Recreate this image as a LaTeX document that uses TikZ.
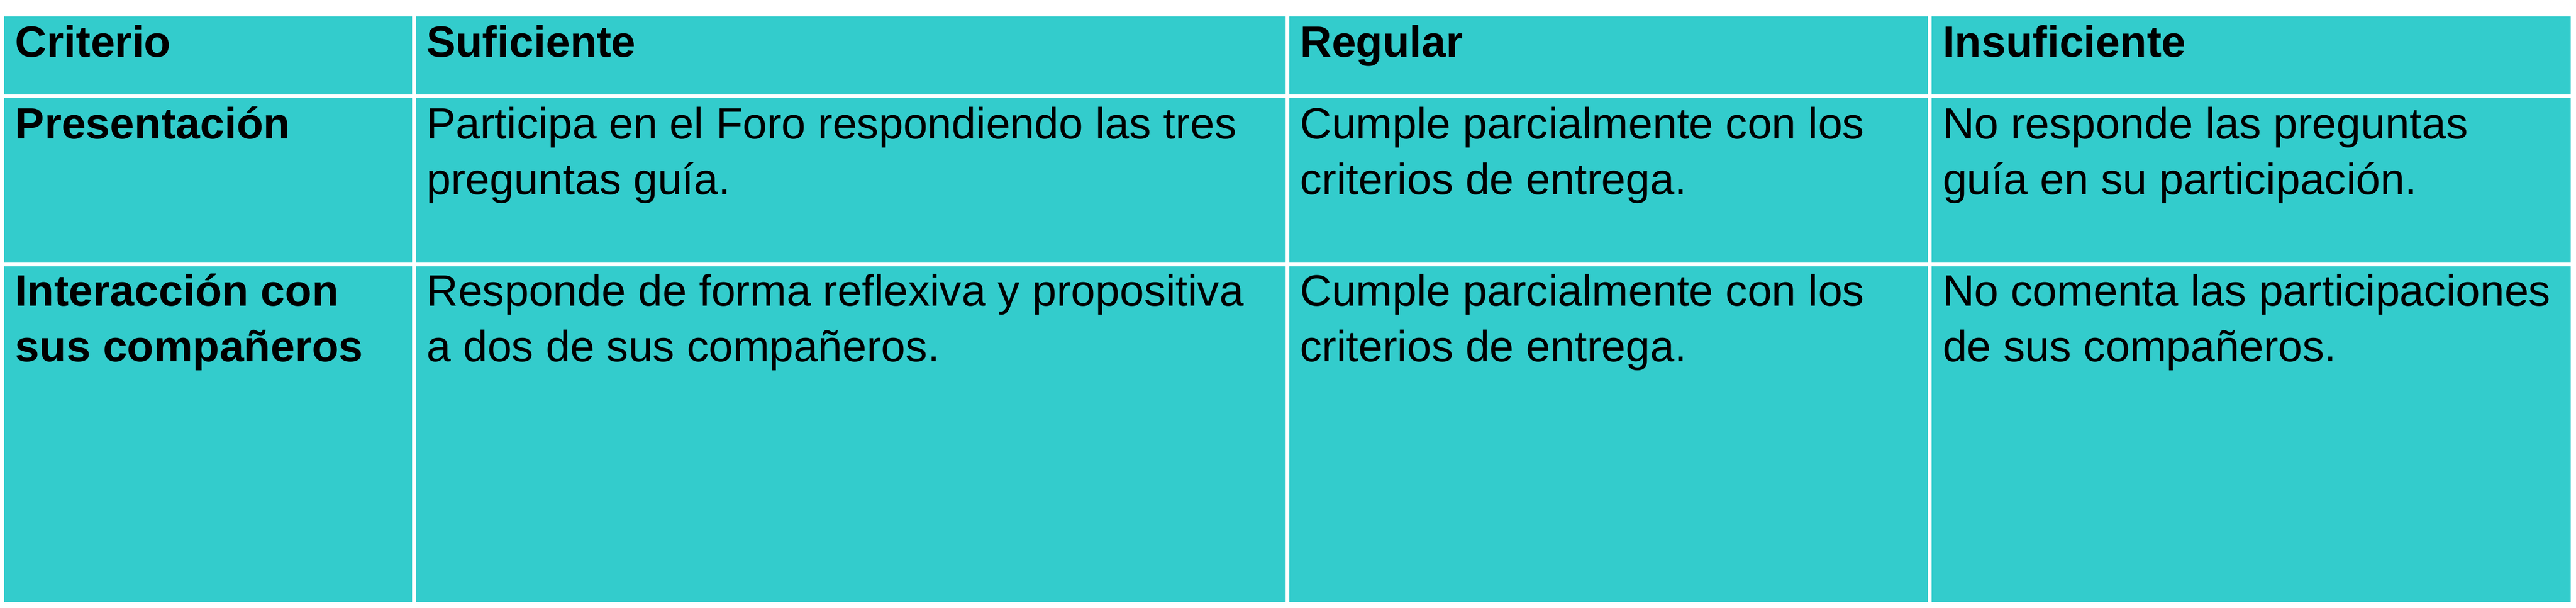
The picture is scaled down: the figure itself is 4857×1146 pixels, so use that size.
\documentclass[tikz,border=0pt]{standalone}
\usepackage{fontspec}
\setmainfont{Liberation Sans}
\definecolor{rubrica}{RGB}{51,204,204}
\newcommand\celllines[1]{\begin{tabular}[t]{@{}l@{}}#1\end{tabular}}

\begin{document}
\begin{tikzpicture}[x=0.2pt,y=-0.2pt,
    cell/.style={rectangle,anchor=north west,inner sep=0pt,outer sep=0pt,
      fill=rubrica,draw=white,line width=1.4pt},
    txt/.style={anchor=base west,inner sep=0pt,
      font=\fontsize{16.5}{21}\selectfont},
    head/.style={txt,font=\fontsize{16.5}{21}\selectfont\bfseries}]

        \useasboundingbox (0,0) rectangle (4857,1146);

        % cells, row by row
        \begin{scope}
          \node[cell,minimum width=155.1pt,minimum height=30.94pt] (11) at (4.5,27)   {};
          \node[cell,minimum width=329.4pt,minimum height=30.94pt] (12) at (780,27)   {};
          \node[cell,minimum width=242.3pt,minimum height=30.94pt] (13) at (2427,27)  {};
          \node[cell,minimum width=242.4pt,minimum height=30.94pt] (14) at (3638.5,27) {};
          \node[cell,minimum width=155.1pt,minimum height=63.36pt] (21) at (4.5,181.7)   {};
          \node[cell,minimum width=329.4pt,minimum height=63.36pt] (22) at (780,181.7)   {};
          \node[cell,minimum width=242.3pt,minimum height=63.36pt] (23) at (2427,181.7)  {};
          \node[cell,minimum width=242.4pt,minimum height=63.36pt] (24) at (3638.5,181.7) {};
          \node[cell,minimum width=155.1pt,minimum height=128pt] (31) at (4.5,498.5)   {};
          \node[cell,minimum width=329.4pt,minimum height=128pt] (32) at (780,498.5)   {};
          \node[cell,minimum width=242.3pt,minimum height=128pt] (33) at (2427,498.5)  {};
          \node[cell,minimum width=242.4pt,minimum height=128pt] (34) at (3638.5,498.5) {};
        \end{scope}

        % texts
        \node[head] (t11) at ([xshift=4.7pt,yshift=-16pt]11.north west) {Criterio};
        \node[head] (t12) at ([xshift=4.7pt,yshift=-16pt]12.north west) {Suficiente};
        \node[head] (t13) at ([xshift=4.7pt,yshift=-16pt]13.north west) {Regular};
        \node[head] (t14) at ([xshift=4.7pt,yshift=-16pt]14.north west) {Insuficiente};

        \node[head] (t21) at ([xshift=4.7pt,yshift=-16pt]21.north west) {Presentación};
        \node[txt]  (t22) at ([xshift=4.7pt,yshift=-16pt]22.north west) {\celllines{Participa en el Foro respondiendo las tres\\preguntas guía.}};
        \node[txt]  (t23) at ([xshift=4.7pt,yshift=-16pt]23.north west) {\celllines{Cumple parcialmente con los\\criterios de entrega.}};
        \node[txt]  (t24) at ([xshift=4.7pt,yshift=-16pt]24.north west) {\celllines{No responde las preguntas\\guía en su participación.}};

        \node[head] (t31) at ([xshift=4.7pt,yshift=-15.6pt]31.north west) {\celllines{Interacción con\\sus compañeros}};
        \node[txt]  (t32) at ([xshift=4.7pt,yshift=-15.6pt]32.north west) {\celllines{Responde de forma reflexiva y propositiva\\a dos de sus compañeros.}};
        \node[txt]  (t33) at ([xshift=4.7pt,yshift=-15.6pt]33.north west) {\celllines{Cumple parcialmente con los\\criterios de entrega.}};
        \node[txt]  (t34) at ([xshift=4.7pt,yshift=-15.6pt]34.north west) {\celllines{No comenta las participaciones\\de sus compañeros.}};

      \end{tikzpicture}
\end{document}
